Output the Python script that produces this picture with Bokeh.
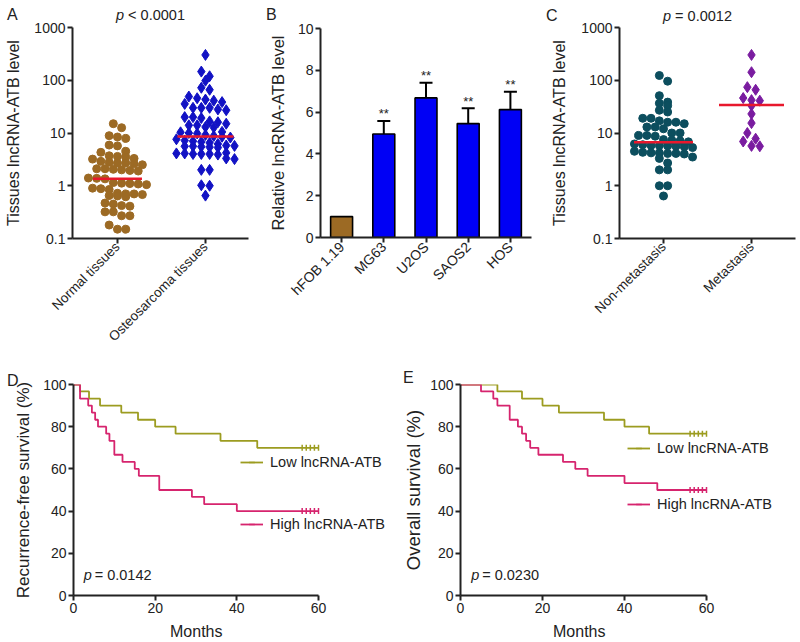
import numpy as np
from bokeh.plotting import figure
from bokeh.layouts import row, column
from bokeh.models import (FixedTicker, Label, Legend, LegendItem, Whisker, TeeHead,
                          ColumnDataSource, FactorRange, Range1d, Div)
from bokeh.embed import file_html
from bokeh.resources import INLINE
from bokeh.core.properties import value

FONT = "Liberation Sans"
INK = "#222222"

# ---------------- data ----------------
# Panel A
normal_tissues = [15.0, 12.6, 8.9, 8.4, 7.9, 5.9, 5.7, 4.5, 4.3, 3.7, 3.6, 3.5, 3.3, 3.2,
                  2.9, 2.8, 2.7, 2.7, 2.6, 2.5, 2.1, 2.1, 2.05, 2.0, 1.95, 1.9, 1.4, 1.38,
                  1.35, 1.15, 1.12, 1.1, 1.08, 1.05, 0.9, 0.88, 0.85, 0.72, 0.7, 0.7, 0.68,
                  0.65, 0.64, 0.62, 0.47, 0.45, 0.42, 0.41, 0.32, 0.32, 0.27, 0.27, 0.18,
                  0.15, 0.15]
osteosarcoma_tissues = [302, 146, 119, 98, 72, 66, 49, 45.6, 43, 41, 38.5, 35.6, 30, 30, 30,
                        28, 27, 20, 20, 19.2, 16.6, 16, 15, 14, 14, 13, 12.7, 10.5, 10.3, 10,
                        9.8, 9.2, 8.8, 8.5, 8.2, 7.6, 7.2, 7.0, 6.8, 6.5, 6.2, 5.8, 5.7, 5.6,
                        5.6, 5.5, 5.4, 5.3, 4.2, 4.1, 4.1, 4.0, 4.0, 4.0, 3.9, 3.3, 3.2, 2.0,
                        2.0, 1.02, 1.0, 0.65]
groups_A = ["Normal tissues", "Osteosarcoma tissues"]
medians_A = [1.35, 8.6]

# Panel B
cell_lines = ["hFOB 1.19", "MG63", "U2OS", "SAOS2", "HOS"]
rel_level = [1.0, 4.95, 6.68, 5.45, 6.12]
rel_err = [0.0, 0.62, 0.72, 0.73, 0.85]
stars = ["", "**", "**", "**", "**"]

# Panel C
non_metastasis = [123, 96, 51, 38.5, 36.6, 33, 27, 25, 19, 19, 17, 16, 16, 15, 13, 13, 12,
                  10, 10, 9, 9, 8.7, 7.5, 7.3, 7.1, 6.8, 6.2, 6.0, 5.8, 5.8, 5.7, 5.6, 5.5,
                  5.3, 4.5, 4.3, 4.2, 4.1, 4.0, 4.1, 4.2, 3.5, 3.3, 2.7, 2.0, 2.0, 1.0, 1.0,
                  0.64]
metastasis = [302, 142, 74, 66, 46, 42, 41, 33, 23, 15.4, 10, 7.8, 6.9, 5.7, 5.6]
groups_C = ["Non-metastasis", "Metastasis"]
medians_C = [6.7, 34]

# Panel D (recurrence-free survival, %)
D_low_t = [0, 1.6, 3.8, 6.5, 11.7, 15.8, 20, 25, 36, 45, 60]
D_low_s = [100, 96.7, 93.3, 90, 86.7, 83.3, 80, 76.7, 73.3, 70, 70]
D_high_t = [0, 1.6, 3.6, 4.5, 5.3, 6, 8, 8.8, 10, 12, 15, 16, 21, 29, 32, 40, 60]
D_high_s = [100, 93.3, 90, 86.7, 83.3, 80, 76.7, 73.3, 66.7, 63.3, 60, 56.7, 50, 46.7,
            43.3, 40, 40]
D_low_cens_t = [56, 57, 58, 59, 60]
D_low_cens_s = [70, 70, 70, 70, 70]
D_high_cens_t = [56, 57, 58, 59, 60]
D_high_cens_s = [40, 40, 40, 40, 40]

# Panel E (overall survival, %)
E_low_t = [0, 9, 15, 20, 24, 35, 40, 46, 60]
E_low_s = [100, 96.7, 93.3, 90, 86.7, 83.3, 80, 76.7, 76.7]
E_high_t = [0, 5, 8, 9, 12, 14, 15, 16, 17, 19, 25, 28, 31, 40, 48, 60]
E_high_s = [100, 96.7, 93.3, 90, 83.3, 80, 76.7, 73.3, 70, 66.7, 63.3, 60, 56.7, 53.3,
            50, 50]
E_low_cens_t = [56, 57, 58, 59, 60]
E_low_cens_s = [76.7, 76.7, 76.7, 76.7, 76.7]
E_high_cens_t = [56, 57, 58, 59, 60]
E_high_cens_s = [50, 50, 50, 50, 50]

BROWN = "#9C6A24"
BLUE_PT = "#1212C4"
BLUE_BAR = "#0000F5"
TEAL = "#0C4E5E"
PURPLE = "#7A1CA0"
RED = "#E8182C"
OLIVE = "#9C9C20"
MAGENTA = "#D6246E"


# ---------------- helpers ----------------
def base_fig(**kw):
    p = figure(output_backend="svg", toolbar_location=None, **kw)
    p.outline_line_color = None
    p.xgrid.visible = False
    p.ygrid.visible = False
    p.background_fill_color = "white"
    p.border_fill_alpha = 0
    return p


def style_axes(p, tick_fs, label_fs, label_standoff, xlab_fs=None):
    for ax in (p.xaxis[0], p.yaxis[0]):
        ax.axis_line_width = 2
        ax.axis_line_color = INK
        ax.major_tick_line_width = 2
        ax.major_tick_line_color = INK
        ax.major_tick_out = 5
        ax.major_tick_in = 0
        ax.minor_tick_line_color = None
        ax.major_label_text_font = FONT
        ax.major_label_text_font_size = tick_fs
        ax.major_label_text_color = INK
        ax.major_label_standoff = 2
        ax.axis_label_text_font = FONT
        ax.axis_label_text_font_style = "normal"
        ax.axis_label_text_color = INK
    p.yaxis[0].axis_label_text_font_size = label_fs
    p.yaxis[0].axis_label_standoff = label_standoff
    p.xaxis[0].axis_label_text_font_size = xlab_fs or label_fs


def swarm(vals, px_per_decade, dx, row_h, px_per_unit):
    """column-scatter layout: points within row_h px share a row, spread symmetrically"""
    ys = np.log10(np.asarray(vals, float)) * px_per_decade
    order = list(np.argsort(-ys))
    offs = np.zeros(len(ys))
    rows, cur = [], [order[0]]
    for i in order[1:]:
        if ys[cur[0]] - ys[i] < row_h:
            cur.append(i)
        else:
            rows.append(cur)
            cur = [i]
    rows.append(cur)
    for r in rows:
        n = len(r)
        for k, i in enumerate(r):
            offs[i] = (k - (n - 1) / 2.0) * dx
    return offs / px_per_unit


def text_div(width, height, items):
    spans = []
    for x, top, html, fs in items:
        spans.append(
            f'<span style="position:absolute;left:{x}px;top:{top}px;font-size:{fs}px;'
            f'line-height:1;white-space:nowrap;">{html}</span>')
    html = (f'<div style="position:relative;width:{width}px;height:{height}px;'
            f'font-family:\'Liberation Sans\',Arial,sans-serif;color:{INK};overflow:visible;">'
            + "".join(spans) + "</div>")
    return Div(text=html, width=width, height=height, margin=0,
               styles={"overflow": "visible", "position": "relative", "z-index": "5"})


def p_label(p, x, y, rest, fs, xoff):
    p.add_layout(Label(x=x, y=y, text="p", text_font=FONT, text_font_style="italic",
                       text_font_size=fs, text_baseline="middle", text_color=INK))
    p.add_layout(Label(x=x, y=y, x_offset=xoff, text=rest, text_font=FONT,
                       text_font_size=fs, text_baseline="middle", text_color=INK))


def log_axis(p, cats):
    p.yaxis[0].ticker = FixedTicker(ticks=[0.1, 1, 10, 100, 1000])
    p.yaxis[0].major_label_overrides = {0.1: "0.1", 1: "1", 10: "10", 100: "100", 1000: "1000"}
    p.xaxis[0].ticker = FixedTicker(ticks=[1, 2])
    p.xaxis[0].major_label_overrides = {1: cats[0], 2: cats[1]}
    p.xaxis[0].major_label_orientation = np.pi / 4
    p.xaxis[0].major_label_text_font_size = "13.5px"
    p.xaxis[0].major_label_standoff = 1


PX_DEC = 211 / 4.0
PX_UNIT = 88.0
DX = 8.3
ROW_H = 6.6

# ---------------- Panel A ----------------
pA = base_fig(frame_width=176, frame_height=211, min_border_left=72, min_border_right=17,
              min_border_top=6, min_border_bottom=112, y_axis_type="log",
              x_range=Range1d(0.489, 2.489), y_range=Range1d(0.1, 1000))
style_axes(pA, "14px", "16px", 9)
log_axis(pA, groups_A)
pA.yaxis[0].axis_label = "Tissues lncRNA-ATB level"
offA1 = swarm(normal_tissues, PX_DEC, DX, ROW_H, PX_UNIT)
offA2 = swarm(osteosarcoma_tissues, PX_DEC, DX, ROW_H, PX_UNIT)
pA.scatter(1 + offA1, normal_tissues, marker="circle", size=8, color=BROWN)
pA.scatter(2 + offA2, osteosarcoma_tissues, marker="diamond", size=11, color=BLUE_PT)
pA.scatter([1, 2], medians_A, marker="dash", size=[49, 56], line_color=RED, line_width=2.5)
divA = text_div(265, 21, [(7, 6.9, "A", 16), (116, 8.4, "<i>p</i> &lt; 0.0001", 14.5)])

# ---------------- Panel B ----------------
pB = base_fig(frame_width=211, frame_height=209, min_border_left=52, min_border_right=7,
              min_border_top=7, min_border_bottom=113,
              x_range=FactorRange(factors=cell_lines, range_padding=0), y_range=Range1d(0, 10))
style_axes(pB, "14px", "16.5px", 8)
pB.yaxis[0].axis_label = "Relative lncRNA-ATB level"
pB.yaxis[0].ticker = FixedTicker(ticks=[0, 2, 4, 6, 8, 10])
pB.xaxis[0].major_label_orientation = np.pi / 4
pB.xaxis[0].major_label_text_font_size = "14px"
bar_colors = [BROWN] + [BLUE_BAR] * 4
pB.vbar(x=cell_lines, top=rel_level, width=0.52, fill_color=bar_colors,
        line_color="black", line_width=1.6)
upper = [v + e for v, e in zip(rel_level, rel_err)]
err_src = ColumnDataSource(dict(x=cell_lines[1:], lower=rel_level[1:], upper=upper[1:]))
pB.add_layout(Whisker(base="x", lower="lower", upper="upper", source=err_src,
                      line_width=2, line_color="black", lower_head=None,
                      upper_head=TeeHead(size=13, line_width=2, line_color="black")))
star_src = ColumnDataSource(dict(x=cell_lines[1:], y=[u + 0.35 for u in upper[1:]],
                                 t=stars[1:]))
pB.text(x="x", y="y", text="t", source=star_src, text_font=value(FONT),
        text_font_size="13px", text_align="center", text_baseline="middle", text_color=INK)
divB = text_div(270, 21, [(1, 6.9, "B", 16)])

# ---------------- Panel C ----------------
pC = base_fig(frame_width=176, frame_height=211, min_border_left=81, min_border_right=6,
              min_border_top=6, min_border_bottom=112, y_axis_type="log",
              x_range=Range1d(0.5, 2.5), y_range=Range1d(0.1, 1000))
style_axes(pC, "14px", "16px", 10)
log_axis(pC, groups_C)
pC.yaxis[0].axis_label = "Tissues lncRNA-ATB level"
offC1 = swarm(non_metastasis, PX_DEC, DX, ROW_H, PX_UNIT)
offC2 = swarm(metastasis, PX_DEC, DX, ROW_H, PX_UNIT)
pC.scatter(1 + offC1, non_metastasis, marker="circle", size=8, color=TEAL)
pC.scatter(2 + offC2, metastasis, marker="diamond", size=11, color=PURPLE)
pC.scatter([1, 2], medians_C, marker="dash", size=[59, 65], line_color=RED, line_width=2.5)
divC = text_div(263, 21, [(8, 7.9, "C", 16), (125, 8.7, "<i>p</i> = 0.0012", 14.5)])


# ---------------- KM panels ----------------
def km_fig(left, frame_w, x_end, right, ylab, ylab_fs, standoff):
    p = base_fig(frame_width=frame_w, frame_height=211, min_border_left=left,
                 min_border_right=right, min_border_top=6, min_border_bottom=26,
                 x_range=Range1d(0, x_end), y_range=Range1d(0, 100))
    style_axes(p, "14px", ylab_fs, standoff)
    p.xaxis[0].ticker = FixedTicker(ticks=[0, 20, 40, 60])
    p.xaxis[0].bounds = (0, 60)
    p.yaxis[0].ticker = FixedTicker(ticks=[0, 20, 40, 60, 80, 100])
    p.yaxis[0].axis_label = ylab
    return p


def km_lines(p, lt, ls, lct, lcs, ht, hs, hct, hcs, loc_low, loc_high):
    rl = p.step(lt, ls, mode="after", line_color=OLIVE, line_width=1.8)
    rh = p.step(ht, hs, mode="after", line_color=MAGENTA, line_width=1.8)
    cl = p.scatter(lct, lcs, marker="dash", angle=np.pi / 2, size=6, line_color=OLIVE,
                   line_width=1.5)
    ch = p.scatter(hct, hcs, marker="dash", angle=np.pi / 2, size=6, line_color=MAGENTA,
                   line_width=1.5)
    for lab, rends, loc in (("Low lncRNA-ATB", [rl, cl], loc_low),
                            ("High lncRNA-ATB", [rh, ch], loc_high)):
        lg = Legend(items=[LegendItem(label=lab, renderers=rends)], location=loc,
                    padding=0, margin=0, spacing=0, border_line_color=None,
                    background_fill_alpha=0, glyph_width=23, glyph_height=14,
                    label_height=14, label_standoff=7, label_text_font=FONT,
                    label_text_font_size="14.5px", label_text_color=INK)
        p.add_layout(lg)


# D: 0..60 months spans 245 px; frame widened to the right for the legend text
pD = km_fig(73, 320, 60 * 320 / 245.0, 7, "Recurrence-free survival (%)", "17px", 7)
km_lines(pD, D_low_t, D_low_s, D_low_cens_t, D_low_cens_s,
         D_high_t, D_high_s, D_high_cens_t, D_high_cens_s, (167, 125), (167, 63))
p_label(pD, 2.5, 9.6, "= 0.0142", "14.5px", 11)
divD = text_div(400, 26, [(7, 21.2, "D", 16)])
divDx = text_div(400, 21, [(170, 3.2, "Months", 16)])

# E: 0..60 months spans 246 px
pE = km_fig(56, 334, 60 * 334 / 246.0, 8, "Overall survival (%)", "18.5px", 3)
km_lines(pE, E_low_t, E_low_s, E_low_cens_t, E_low_cens_s,
         E_high_t, E_high_s, E_high_cens_t, E_high_cens_s, (167, 139), (167, 83))
p_label(pE, 2.6, 9.6, "= 0.0230", "14.5px", 11)
divE = text_div(398, 26, [(3, 18, "E", 16)])
divEx = text_div(398, 21, [(153, 3.2, "Months", 16)])

layout = column(row(column(divA, pA), column(divB, pB), column(divC, pC)),
                row(column(divD, pD, divDx), column(divE, pE, divEx)))
open("out.html", "w").write(file_html(layout, INLINE))
